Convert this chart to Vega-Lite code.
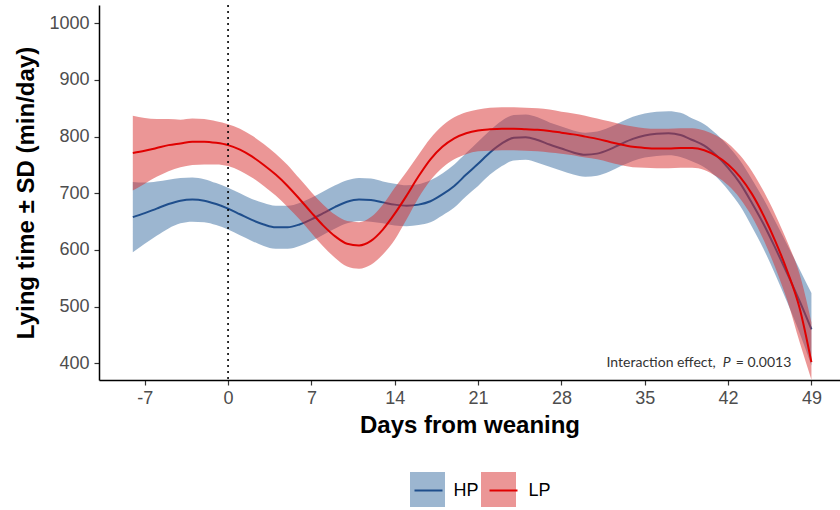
{
  "$schema": "https://vega.github.io/schema/vega-lite/v6.json",
  "width": 741,
  "height": 375,
  "autosize": {"type": "none"},
  "padding": {"left": 99, "top": 5, "right": 0, "bottom": 130},
  "background": "white",
  "config": {
    "view": {"stroke": null},
    "axis": {
      "grid": false,
      "domainColor": "black",
      "domainWidth": 1.5,
      "tickColor": "#333333",
      "tickSize": 5,
      "tickWidth": 1.2,
      "labelColor": "#4d4d4d",
      "labelFont": "Liberation Sans",
      "labelFontSize": 18,
      "titleFont": "Liberation Sans",
      "titleFontSize": 24,
      "titleFontWeight": "bold",
      "titleColor": "black"
    },
    "legend": {"labelFont": "Liberation Sans"}
  },
  "layer": [
    {
      "data": {
        "values": [
          {"day": -8, "group": "HP", "mean": 658, "lo": 596, "hi": 720},
          {"day": -7, "group": "HP", "mean": 665, "lo": 611, "hi": 719},
          {"day": -6, "group": "HP", "mean": 673, "lo": 625, "hi": 721},
          {"day": -5, "group": "HP", "mean": 681, "lo": 638, "hi": 724},
          {"day": -4, "group": "HP", "mean": 687, "lo": 647, "hi": 727},
          {"day": -3, "group": "HP", "mean": 689, "lo": 650, "hi": 728},
          {"day": -2, "group": "HP", "mean": 687, "lo": 649, "hi": 725},
          {"day": -1, "group": "HP", "mean": 681, "lo": 644, "hi": 718},
          {"day": 0, "group": "HP", "mean": 673, "lo": 636, "hi": 710},
          {"day": 1, "group": "HP", "mean": 663, "lo": 626, "hi": 700},
          {"day": 2, "group": "HP", "mean": 653, "lo": 616, "hi": 690},
          {"day": 3, "group": "HP", "mean": 645, "lo": 607, "hi": 683},
          {"day": 4, "group": "HP", "mean": 640, "lo": 602, "hi": 678},
          {"day": 5, "group": "HP", "mean": 640, "lo": 602, "hi": 678},
          {"day": 6, "group": "HP", "mean": 645, "lo": 607, "hi": 683},
          {"day": 7, "group": "HP", "mean": 654, "lo": 616, "hi": 692},
          {"day": 8, "group": "HP", "mean": 665, "lo": 627, "hi": 703},
          {"day": 9, "group": "HP", "mean": 676, "lo": 638, "hi": 714},
          {"day": 10, "group": "HP", "mean": 685, "lo": 647, "hi": 723},
          {"day": 11, "group": "HP", "mean": 689, "lo": 651, "hi": 727},
          {"day": 12, "group": "HP", "mean": 688, "lo": 650, "hi": 726},
          {"day": 13, "group": "HP", "mean": 684, "lo": 647, "hi": 721},
          {"day": 14, "group": "HP", "mean": 680, "lo": 643, "hi": 717},
          {"day": 15, "group": "HP", "mean": 678, "lo": 642, "hi": 714},
          {"day": 16, "group": "HP", "mean": 680, "lo": 644, "hi": 716},
          {"day": 17, "group": "HP", "mean": 686, "lo": 649, "hi": 723},
          {"day": 18, "group": "HP", "mean": 698, "lo": 661, "hi": 735},
          {"day": 19, "group": "HP", "mean": 713, "lo": 675, "hi": 751},
          {"day": 20, "group": "HP", "mean": 733, "lo": 695, "hi": 771},
          {"day": 21, "group": "HP", "mean": 752, "lo": 713, "hi": 791},
          {"day": 22, "group": "HP", "mean": 772, "lo": 733, "hi": 811},
          {"day": 23, "group": "HP", "mean": 788, "lo": 748, "hi": 828},
          {"day": 24, "group": "HP", "mean": 798, "lo": 758, "hi": 838},
          {"day": 25, "group": "HP", "mean": 799, "lo": 759, "hi": 839},
          {"day": 26, "group": "HP", "mean": 794, "lo": 754, "hi": 834},
          {"day": 27, "group": "HP", "mean": 786, "lo": 747, "hi": 825},
          {"day": 28, "group": "HP", "mean": 779, "lo": 740, "hi": 818},
          {"day": 29, "group": "HP", "mean": 772, "lo": 733, "hi": 811},
          {"day": 30, "group": "HP", "mean": 768, "lo": 729, "hi": 807},
          {"day": 31, "group": "HP", "mean": 770, "lo": 731, "hi": 809},
          {"day": 32, "group": "HP", "mean": 777, "lo": 738, "hi": 816},
          {"day": 33, "group": "HP", "mean": 787, "lo": 748, "hi": 826},
          {"day": 34, "group": "HP", "mean": 796, "lo": 757, "hi": 835},
          {"day": 35, "group": "HP", "mean": 802, "lo": 763, "hi": 841},
          {"day": 36, "group": "HP", "mean": 805, "lo": 766, "hi": 844},
          {"day": 37, "group": "HP", "mean": 806, "lo": 767, "hi": 845},
          {"day": 38, "group": "HP", "mean": 803, "lo": 764, "hi": 842},
          {"day": 39, "group": "HP", "mean": 794, "lo": 756, "hi": 832},
          {"day": 40, "group": "HP", "mean": 784, "lo": 746, "hi": 822},
          {"day": 41, "group": "HP", "mean": 767, "lo": 729, "hi": 805},
          {"day": 42, "group": "HP", "mean": 745, "lo": 706, "hi": 784},
          {"day": 43, "group": "HP", "mean": 718, "lo": 678, "hi": 758},
          {"day": 44, "group": "HP", "mean": 683, "lo": 641, "hi": 725},
          {"day": 45, "group": "HP", "mean": 645, "lo": 601, "hi": 689},
          {"day": 46, "group": "HP", "mean": 602, "lo": 555, "hi": 649},
          {"day": 47, "group": "HP", "mean": 557, "lo": 506, "hi": 608},
          {"day": 48, "group": "HP", "mean": 510, "lo": 454, "hi": 566},
          {"day": 49, "group": "HP", "mean": 460, "lo": 396, "hi": 524},
          {"day": -8, "group": "LP", "mean": 771, "lo": 705, "hi": 837},
          {"day": -7, "group": "LP", "mean": 775, "lo": 717, "hi": 833},
          {"day": -6, "group": "LP", "mean": 780, "lo": 729, "hi": 831},
          {"day": -5, "group": "LP", "mean": 785, "lo": 739, "hi": 831},
          {"day": -4, "group": "LP", "mean": 788, "lo": 746, "hi": 830},
          {"day": -3, "group": "LP", "mean": 791, "lo": 750, "hi": 832},
          {"day": -2, "group": "LP", "mean": 791, "lo": 751, "hi": 831},
          {"day": -1, "group": "LP", "mean": 789, "lo": 751, "hi": 827},
          {"day": 0, "group": "LP", "mean": 785, "lo": 748, "hi": 822},
          {"day": 1, "group": "LP", "mean": 777, "lo": 740, "hi": 814},
          {"day": 2, "group": "LP", "mean": 765, "lo": 728, "hi": 802},
          {"day": 3, "group": "LP", "mean": 750, "lo": 713, "hi": 787},
          {"day": 4, "group": "LP", "mean": 733, "lo": 696, "hi": 770},
          {"day": 5, "group": "LP", "mean": 713, "lo": 676, "hi": 750},
          {"day": 6, "group": "LP", "mean": 690, "lo": 654, "hi": 726},
          {"day": 7, "group": "LP", "mean": 666, "lo": 630, "hi": 702},
          {"day": 8, "group": "LP", "mean": 643, "lo": 606, "hi": 680},
          {"day": 9, "group": "LP", "mean": 624, "lo": 586, "hi": 662},
          {"day": 10, "group": "LP", "mean": 611, "lo": 571, "hi": 651},
          {"day": 11, "group": "LP", "mean": 608, "lo": 567, "hi": 649},
          {"day": 12, "group": "LP", "mean": 616, "lo": 574, "hi": 658},
          {"day": 13, "group": "LP", "mean": 636, "lo": 592, "hi": 680},
          {"day": 14, "group": "LP", "mean": 664, "lo": 618, "hi": 710},
          {"day": 15, "group": "LP", "mean": 696, "lo": 654, "hi": 738},
          {"day": 16, "group": "LP", "mean": 730, "lo": 692, "hi": 768},
          {"day": 17, "group": "LP", "mean": 760, "lo": 723, "hi": 797},
          {"day": 18, "group": "LP", "mean": 782, "lo": 745, "hi": 819},
          {"day": 19, "group": "LP", "mean": 797, "lo": 760, "hi": 834},
          {"day": 20, "group": "LP", "mean": 806, "lo": 769, "hi": 843},
          {"day": 21, "group": "LP", "mean": 811, "lo": 774, "hi": 848},
          {"day": 22, "group": "LP", "mean": 813, "lo": 775, "hi": 851},
          {"day": 23, "group": "LP", "mean": 814, "lo": 776, "hi": 852},
          {"day": 24, "group": "LP", "mean": 814, "lo": 776, "hi": 852},
          {"day": 25, "group": "LP", "mean": 813, "lo": 775, "hi": 851},
          {"day": 26, "group": "LP", "mean": 812, "lo": 774, "hi": 850},
          {"day": 27, "group": "LP", "mean": 810, "lo": 772, "hi": 848},
          {"day": 28, "group": "LP", "mean": 807, "lo": 770, "hi": 844},
          {"day": 29, "group": "LP", "mean": 804, "lo": 767, "hi": 841},
          {"day": 30, "group": "LP", "mean": 800, "lo": 763, "hi": 837},
          {"day": 31, "group": "LP", "mean": 796, "lo": 760, "hi": 832},
          {"day": 32, "group": "LP", "mean": 791, "lo": 755, "hi": 827},
          {"day": 33, "group": "LP", "mean": 786, "lo": 750, "hi": 822},
          {"day": 34, "group": "LP", "mean": 782, "lo": 746, "hi": 818},
          {"day": 35, "group": "LP", "mean": 780, "lo": 745, "hi": 815},
          {"day": 36, "group": "LP", "mean": 779, "lo": 744, "hi": 814},
          {"day": 37, "group": "LP", "mean": 779, "lo": 744, "hi": 814},
          {"day": 38, "group": "LP", "mean": 780, "lo": 745, "hi": 815},
          {"day": 39, "group": "LP", "mean": 780, "lo": 745, "hi": 815},
          {"day": 40, "group": "LP", "mean": 776, "lo": 741, "hi": 811},
          {"day": 41, "group": "LP", "mean": 766, "lo": 730, "hi": 802},
          {"day": 42, "group": "LP", "mean": 751, "lo": 714, "hi": 788},
          {"day": 43, "group": "LP", "mean": 729, "lo": 691, "hi": 767},
          {"day": 44, "group": "LP", "mean": 699, "lo": 659, "hi": 739},
          {"day": 45, "group": "LP", "mean": 660, "lo": 617, "hi": 703},
          {"day": 46, "group": "LP", "mean": 614, "lo": 567, "hi": 661},
          {"day": 47, "group": "LP", "mean": 561, "lo": 509, "hi": 613},
          {"day": 48, "group": "LP", "mean": 498, "lo": 438, "hi": 558},
          {"day": 49, "group": "LP", "mean": 402, "lo": 371, "hi": 472}
        ]
      },
      "encoding": {
        "x": {
          "field": "day",
          "type": "quantitative",
          "scale": {"domain": [-10.84, 51.4], "nice": false, "zero": false},
          "axis": {
            "values": [-7, 0, 7, 14, 21, 28, 35, 42, 49],
            "labelExpr": "toString(datum.value)",
            "title": "Days from weaning",
            "labelPadding": 4,
            "titlePadding": 6
          }
        }
      },
      "layer": [
        {
          "transform": [{"filter": "datum.group === 'HP'"}],
          "mark": {"type": "area", "interpolate": "monotone", "fillOpacity": 0.5},
          "encoding": {
            "y": {
              "field": "lo",
              "type": "quantitative",
              "scale": {"domain": [370.5, 1032.3], "nice": false, "zero": false},
              "axis": {
                "values": [400, 500, 600, 700, 800, 900, 1000],
                "labelExpr": "toString(datum.value)",
                "title": "Lying time ± SD (min/day)",
                "labelPadding": 5,
                "titlePadding": 10
              }
            },
            "y2": {"field": "hi"},
            "fill": {
              "field": "group",
              "type": "nominal",
              "scale": {"range": ["#396da1", "#d72d2d"]},
              "legend": {
                "orient": "none",
                "legendX": 311,
                "legendY": 467,
                "direction": "horizontal",
                "title": null,
                "symbolType": "square",
                "symbolSize": 1225,
                "symbolOpacity": 0.5,
                "symbolStrokeWidth": 0,
                "labelExpr": "''",
                "labelFontSize": 17,
                "labelOffset": 0,
                "columnPadding": 36,
                "padding": 0
              }
            }
          }
        },
        {
          "transform": [{"filter": "datum.group === 'HP'"}],
          "mark": {"type": "line", "interpolate": "monotone", "strokeWidth": 2},
          "encoding": {
            "y": {"field": "mean", "type": "quantitative"},
            "stroke": {
              "field": "group",
              "type": "nominal",
              "scale": {"domain": ["HP", "LP"], "range": ["#1f4e8c", "#e00000"]},
              "legend": {
                "orient": "none",
                "legendX": 314.5,
                "legendY": 470.5,
                "direction": "horizontal",
                "title": null,
                "symbolType": "stroke",
                "symbolSize": 784,
                "symbolStrokeWidth": 2,
                "labelFontSize": 18,
                "labelColor": "black",
                "labelOffset": 10,
                "columnPadding": 6,
                "padding": 0
              }
            }
          }
        },
        {
          "transform": [{"filter": "datum.group === 'LP'"}],
          "mark": {"type": "area", "interpolate": "monotone", "fillOpacity": 0.5},
          "encoding": {
            "y": {"field": "lo", "type": "quantitative"},
            "y2": {"field": "hi"},
            "fill": {"field": "group", "type": "nominal"}
          }
        },
        {
          "transform": [{"filter": "datum.group === 'LP'"}],
          "mark": {"type": "line", "interpolate": "monotone", "strokeWidth": 2},
          "encoding": {
            "y": {"field": "mean", "type": "quantitative"},
            "stroke": {"field": "group", "type": "nominal"}
          }
        }
      ]
    },
    {
      "data": {"values": [{"label": "weaning"}]},
      "mark": {"type": "rule", "color": "black", "strokeWidth": 1.6, "strokeDash": [2, 4]},
      "encoding": {"x": {"datum": 0, "type": "quantitative"}}
    },
    {
      "data": {"values": [{"label": "Interaction effect,"}]},
      "mark": {"type": "text", "align": "right", "baseline": "alphabetic", "font": "Lato", "fontSize": 14, "color": "#333333"},
      "encoding": {
        "x": {"datum": 40.96, "type": "quantitative"},
        "y": {"datum": 393, "type": "quantitative"},
        "text": {"field": "label"}
      }
    },
    {
      "data": {"values": [{"label": "P"}]},
      "mark": {"type": "text", "align": "left", "baseline": "alphabetic", "font": "Lato", "fontSize": 14, "fontStyle": "italic", "color": "#333333"},
      "encoding": {
        "x": {"datum": 41.55, "type": "quantitative"},
        "y": {"datum": 393, "type": "quantitative"},
        "text": {"field": "label"}
      }
    },
    {
      "data": {"values": [{"label": "= 0.0013"}]},
      "mark": {"type": "text", "align": "left", "baseline": "alphabetic", "font": "Lato", "fontSize": 14, "color": "#333333"},
      "encoding": {
        "x": {"datum": 42.64, "type": "quantitative"},
        "y": {"datum": 393, "type": "quantitative"},
        "text": {"field": "label"}
      }
    }
  ]
}
